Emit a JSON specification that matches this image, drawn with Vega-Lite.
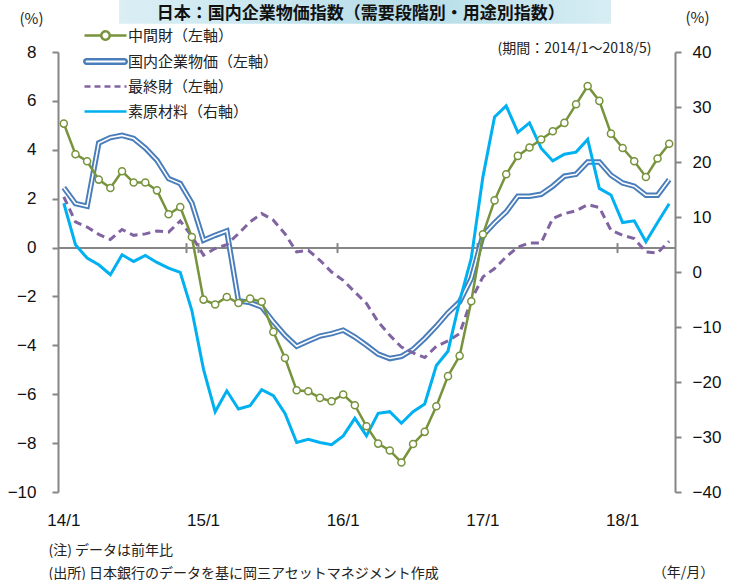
{
  "$schema": "https://vega.github.io/schema/vega-lite/v6.json",
  "width": 617,
  "height": 440,
  "autosize": {"type": "none"},
  "padding": {"left": 58, "top": 52, "right": 57, "bottom": 88},
  "background": "white",
  "config": {
    "view": {"stroke": null},
    "axis": {"labelFont": "Liberation Sans", "labelFontSize": 17, "labelColor": "#111", "titleFont": "Noto Sans CJK JP", "titleFontWeight": "normal", "titleColor": "#222", "domainColor": "#868686", "tickColor": "#868686", "domainWidth": 2, "tickWidth": 2, "grid": false},
    "legend": {"title": null, "orient": "none", "legendX": 39, "legendY": -25, "symbolSize": 196, "labelOffset": 14, "labelFont": "Noto Sans CJK JP", "labelFontSize": 15, "labelColor": "#222", "rowPadding": 8, "padding": 0, "labelLimit": 300, "symbolStrokeWidth": 2.5}
  },
  "data": {"values": [
    {"m": "2014/01", "intermediate": 5.07, "cgpi": 2.45, "final": 2.07, "raw": 12.5},
    {"m": "2014/02", "intermediate": 3.82, "cgpi": 1.80, "final": 1.05, "raw": 4.95},
    {"m": "2014/03", "intermediate": 3.53, "cgpi": 1.69, "final": 0.84, "raw": 2.54},
    {"m": "2014/04", "intermediate": 2.78, "cgpi": 4.28, "final": 0.54, "raw": 1.32},
    {"m": "2014/05", "intermediate": 2.44, "cgpi": 4.50, "final": 0.33, "raw": -0.49},
    {"m": "2014/06", "intermediate": 3.12, "cgpi": 4.59, "final": 0.74, "raw": 3.13},
    {"m": "2014/07", "intermediate": 2.66, "cgpi": 4.46, "final": 0.50, "raw": 1.92},
    {"m": "2014/08", "intermediate": 2.66, "cgpi": 4.07, "final": 0.56, "raw": 3.0},
    {"m": "2014/09", "intermediate": 2.34, "cgpi": 3.57, "final": 0.68, "raw": 1.74},
    {"m": "2014/10", "intermediate": 1.36, "cgpi": 2.82, "final": 0.63, "raw": 0.72},
    {"m": "2014/11", "intermediate": 1.66, "cgpi": 2.62, "final": 1.09, "raw": -0.07},
    {"m": "2014/12", "intermediate": 0.43, "cgpi": 1.82, "final": 0.46, "raw": -7.0},
    {"m": "2015/01", "intermediate": -2.13, "cgpi": 0.30, "final": -0.31, "raw": -17.7},
    {"m": "2015/02", "intermediate": -2.33, "cgpi": 0.50, "final": -0.04, "raw": -25.4},
    {"m": "2015/03", "intermediate": -2.02, "cgpi": 0.68, "final": 0.12, "raw": -21.6},
    {"m": "2015/04", "intermediate": -2.27, "cgpi": -2.18, "final": 0.57, "raw": -24.9},
    {"m": "2015/05", "intermediate": -2.09, "cgpi": -2.25, "final": 1.05, "raw": -24.3},
    {"m": "2015/06", "intermediate": -2.22, "cgpi": -2.43, "final": 1.39, "raw": -21.4},
    {"m": "2015/07", "intermediate": -3.45, "cgpi": -3.04, "final": 1.12, "raw": -22.5},
    {"m": "2015/08", "intermediate": -4.52, "cgpi": -3.59, "final": 0.56, "raw": -25.7},
    {"m": "2015/09", "intermediate": -5.84, "cgpi": -4.04, "final": -0.18, "raw": -31.0},
    {"m": "2015/10", "intermediate": -5.88, "cgpi": -3.82, "final": -0.11, "raw": -30.4},
    {"m": "2015/11", "intermediate": -6.15, "cgpi": -3.62, "final": -0.52, "raw": -31.0},
    {"m": "2015/12", "intermediate": -6.29, "cgpi": -3.52, "final": -1.0, "raw": -31.4},
    {"m": "2016/01", "intermediate": -6.01, "cgpi": -3.38, "final": -1.34, "raw": -29.8},
    {"m": "2016/02", "intermediate": -6.45, "cgpi": -3.66, "final": -1.82, "raw": -26.6},
    {"m": "2016/03", "intermediate": -7.31, "cgpi": -4.0, "final": -2.29, "raw": -29.8},
    {"m": "2016/04", "intermediate": -8.02, "cgpi": -4.36, "final": -3.04, "raw": -25.7},
    {"m": "2016/05", "intermediate": -8.30, "cgpi": -4.54, "final": -3.59, "raw": -25.4},
    {"m": "2016/06", "intermediate": -8.79, "cgpi": -4.45, "final": -4.07, "raw": -27.5},
    {"m": "2016/07", "intermediate": -8.04, "cgpi": -4.16, "final": -4.31, "raw": -25.4},
    {"m": "2016/08", "intermediate": -7.54, "cgpi": -3.72, "final": -4.50, "raw": -24.0},
    {"m": "2016/09", "intermediate": -6.49, "cgpi": -3.22, "final": -4.04, "raw": -17.0},
    {"m": "2016/10", "intermediate": -5.26, "cgpi": -2.67, "final": -3.82, "raw": -14.4},
    {"m": "2016/11", "intermediate": -4.43, "cgpi": -2.22, "final": -3.52, "raw": -5.3},
    {"m": "2016/12", "intermediate": -2.20, "cgpi": -1.27, "final": -2.15, "raw": 2.5},
    {"m": "2017/01", "intermediate": 0.54, "cgpi": 0.50, "final": -1.2, "raw": 17.3},
    {"m": "2017/02", "intermediate": 1.93, "cgpi": 1.01, "final": -0.86, "raw": 28.2},
    {"m": "2017/03", "intermediate": 3.0, "cgpi": 1.46, "final": -0.38, "raw": 30.2},
    {"m": "2017/04", "intermediate": 3.75, "cgpi": 2.10, "final": 0.02, "raw": 25.4},
    {"m": "2017/05", "intermediate": 4.09, "cgpi": 2.10, "final": 0.19, "raw": 27.1},
    {"m": "2017/06", "intermediate": 4.42, "cgpi": 2.18, "final": 0.19, "raw": 22.5},
    {"m": "2017/07", "intermediate": 4.76, "cgpi": 2.51, "final": 1.19, "raw": 20.2},
    {"m": "2017/08", "intermediate": 5.10, "cgpi": 2.92, "final": 1.39, "raw": 21.4},
    {"m": "2017/09", "intermediate": 5.86, "cgpi": 3.0, "final": 1.50, "raw": 21.8},
    {"m": "2017/10", "intermediate": 6.61, "cgpi": 3.50, "final": 1.76, "raw": 24.1},
    {"m": "2017/11", "intermediate": 6.0, "cgpi": 3.50, "final": 1.64, "raw": 15.2},
    {"m": "2017/12", "intermediate": 4.66, "cgpi": 2.96, "final": 0.71, "raw": 14.0},
    {"m": "2018/01", "intermediate": 4.07, "cgpi": 2.64, "final": 0.50, "raw": 9.0},
    {"m": "2018/02", "intermediate": 3.53, "cgpi": 2.51, "final": 0.37, "raw": 9.3},
    {"m": "2018/03", "intermediate": 2.89, "cgpi": 2.14, "final": -0.18, "raw": 5.5},
    {"m": "2018/04", "intermediate": 3.64, "cgpi": 2.14, "final": -0.22, "raw": 9.0},
    {"m": "2018/05", "intermediate": 4.25, "cgpi": 2.78, "final": 0.26, "raw": 12.4}
  ]},
  "layer": [
    {
      "data": {"values": [{}]},
      "mark": {"type": "rect", "clip": false, "color": {"gradient": "linear", "x1": 0, "x2": 1, "y1": 0, "y2": 0, "stops": [{"offset": 0, "color": "#dbeff5"}, {"offset": 0.6, "color": "#b6dde8"}, {"offset": 1, "color": "#d6edf3"}]}},
      "encoding": {
        "x": {"datum": "2014/06", "type": "ordinal", "bandPosition": 0.24, "scale": {"type": "band", "paddingInner": 0, "paddingOuter": 0}, "axis": null},
        "x2": {"datum": "2017/12"},
        "y": {"datum": 9.16, "type": "quantitative", "scale": {"domain": [-10, 8]}, "axis": null},
        "y2": {"datum": 10.2}
      }
    },
    {
      "data": {"values": [{}]},
      "mark": {"type": "text", "text": "日本：国内企業物価指数（需要段階別・用途別指数）", "clip": false, "align": "center", "baseline": "middle", "font": "Noto Sans CJK JP", "fontSize": 17, "fontWeight": "bold", "color": "#111"},
      "encoding": {
        "x": {"datum": "2016/03", "type": "ordinal", "bandPosition": 0, "scale": {"type": "band", "paddingInner": 0, "paddingOuter": 0}, "axis": null},
        "y": {"datum": 9.56, "type": "quantitative", "scale": {"domain": [-10, 8]}, "axis": null}
      }
    },
    {
      "mark": {"type": "line", "color": "#4a7ebb", "strokeWidth": 5.5},
      "encoding": {
        "x": {"field": "m", "type": "ordinal", "bandPosition": 0.5, "scale": {"type": "band", "paddingInner": 0, "paddingOuter": 0},
          "axis": {"orient": "bottom", "values": ["2014/01", "2015/01", "2016/01", "2017/01", "2018/01"], "labelExpr": "substring(datum.value,2,4) + '/' + toNumber(substring(datum.value,5,7))", "labelAngle": 0, "labelPadding": 20, "ticks": false, "domain": false, "title": "（年/月）", "titleX": 625, "titleY": 80, "titleAlign": "center", "titleBaseline": "middle", "titleFontSize": 14, "titleAnchor": null}},
        "y": {"field": "cgpi", "type": "quantitative", "scale": {"domain": [-10, 8]},
          "axis": {"orient": "left", "values": [-10, -8, -6, -4, -2, 0, 2, 4, 6, 8], "tickSize": 6, "labelPadding": 16, "title": "(%)", "titleAngle": 0, "titleX": -27, "titleY": -34, "titleAlign": "center", "titleBaseline": "middle", "titleFontSize": 15}}
      }
    },
    {
      "mark": {"type": "line", "color": "white", "strokeWidth": 1.6},
      "encoding": {
        "x": {"field": "m", "type": "ordinal", "bandPosition": 0.5, "scale": {"type": "band", "paddingInner": 0, "paddingOuter": 0},
          "axis": {"orient": "bottom", "offset": -244.4, "values": ["2014/12", "2015/12", "2016/12", "2017/12"], "tickBand": "extent", "labels": false, "ticks": true, "tickSize": 5, "domain": true, "title": null}},
        "y": {"field": "cgpi", "type": "quantitative", "scale": {"domain": [-10, 8]}, "axis": null}
      }
    },
    {
      "mark": {"type": "line", "color": "#8064a2", "strokeWidth": 3, "strokeDash": [8, 5]},
      "encoding": {
        "x": {"field": "m", "type": "ordinal", "bandPosition": 0.5, "scale": {"type": "band", "paddingInner": 0, "paddingOuter": 0},
          "axis": {"orient": "top", "offset": -195.6, "values": ["2014/12", "2015/12", "2016/12", "2017/12"], "tickBand": "extent", "labels": false, "ticks": true, "tickSize": 5, "domain": false, "title": "(期間：2014/1～2018/5)", "titleX": 516, "titleY": -199.6, "titleAlign": "center", "titleBaseline": "middle", "titleFontSize": 14, "titleAnchor": null}},
        "y": {"field": "final", "type": "quantitative", "scale": {"domain": [-10, 8]}, "axis": null}
      }
    },
    {
      "mark": {"type": "line", "color": "#00b0f0", "strokeWidth": 3},
      "encoding": {
        "x": {"field": "m", "type": "ordinal", "bandPosition": 0.5, "scale": {"type": "band", "paddingInner": 0, "paddingOuter": 0}, "axis": null},
        "y": {"field": "raw", "type": "quantitative", "scale": {"domain": [-40, 40]},
          "axis": {"orient": "right", "values": [-40, -30, -20, -10, 0, 10, 20, 30, 40], "tickSize": 6, "labelPadding": 11, "title": "(%)", "titleAngle": 0, "titleX": 22, "titleY": -35, "titleAlign": "center", "titleBaseline": "middle", "titleFontSize": 15}}
      }
    },
    {
      "mark": {"type": "line", "color": "#77933c", "strokeWidth": 2.5},
      "encoding": {
        "x": {"field": "m", "type": "ordinal", "bandPosition": 0.5, "scale": {"type": "band", "paddingInner": 0, "paddingOuter": 0},
          "axis": {"orient": "bottom", "labels": false, "ticks": false, "domain": false, "title": ["(注) データは前年比", "(出所) 日本銀行のデータを基に岡三アセットマネジメント作成"], "titleX": -10, "titleY": 51, "titleAlign": "left", "titleBaseline": "top", "titleLineHeight": 23, "titleFontSize": 14, "titleAnchor": null}},
        "y": {"field": "intermediate", "type": "quantitative", "scale": {"domain": [-10, 8]}, "axis": null}
      }
    },
    {
      "mark": {"type": "point", "shape": "circle", "filled": true, "fill": "white", "stroke": "#77933c", "strokeWidth": 1.5, "size": 50, "opacity": 1},
      "encoding": {
        "x": {"field": "m", "type": "ordinal", "bandPosition": 0.5, "scale": {"type": "band", "paddingInner": 0, "paddingOuter": 0}, "axis": null},
        "y": {"field": "intermediate", "type": "quantitative", "scale": {"domain": [-10, 8]}, "axis": null}
      }
    },
    {
      "data": {"values": []},
      "mark": {"type": "point", "filled": false, "fill": "white", "strokeWidth": 2.5, "opacity": 1},
      "encoding": {
        "color": {"field": "s", "type": "nominal", "scale": {"domain": ["中間財（左軸）", "国内企業物価（左軸）", "最終財（左軸）", "素原材料（右軸）"], "range": ["#77933c", "#4a7ebb", "#8064a2", "#00b0f0"]}, "legend": {"title": null, "orient": "none", "legendX": 39, "legendY": -25}},
        "shape": {"field": "s", "type": "nominal", "scale": {"domain": ["中間財（左軸）", "国内企業物価（左軸）", "最終財（左軸）", "素原材料（右軸）"], "range": ["M-3,0H-0.6M0.6,0H3M0.6,0A0.6,0.6,0,1,1,-0.6,0A0.6,0.6,0,1,1,0.6,0", "M-2.7,-0.33H2.7A0.33,0.33,0,0,1,2.7,0.33H-2.7A0.33,0.33,0,0,1,-2.7,-0.33Z", "M-3,0H3", "M-3,0H3"]}},
        "strokeDash": {"field": "s", "type": "nominal", "scale": {"domain": ["中間財（左軸）", "国内企業物価（左軸）", "最終財（左軸）", "素原材料（右軸）"], "range": [[1, 0], [1, 0], [6, 4], [1, 0]]}}
      }
    }
  ],
  "resolve": {"scale": {"y": "independent"}, "axis": {"x": "independent", "y": "independent"}}
}
